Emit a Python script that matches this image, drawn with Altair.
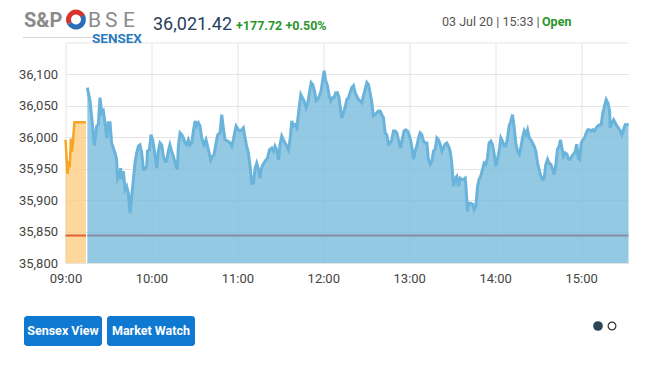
import altair as alt
import pandas as pd

# ---------------- data (minutes after 09:00, index value) ----------------
pre_t = [0.0, 0.6, 1.4, 2.2, 3.0, 3.8, 4.6, 5.4, 6.2, 14.3]
pre_v = [35996, 35975, 35942, 35958, 35956, 35998, 35977, 35999, 36024, 36024]

blue_t = [15.25, 17.1, 18.7, 20.1, 21.8, 22.9, 24.1, 25.3, 26.4, 27.6, 28.8, 29.9, 31.1, 32.2, 33.4, 34.6,
          35.7, 36.4, 37.6, 38.5, 39.2, 40.4, 41.6, 42.7, 43.9, 45.1, 46.2, 47.4, 48.5, 49.7, 50.9, 52.0,
          53.2, 54.4, 55.5, 56.7, 57.2, 58.6, 59.7, 60.9, 62.5, 63.7, 64.8, 66.0, 67.2, 68.3, 69.5, 70.6,
          71.8, 72.9, 74.1, 75.3, 77.2, 78.1, 78.8, 80.0, 81.2, 82.3, 83.5, 84.7, 85.8, 87.0, 88.2, 89.3,
          90.5, 91.6, 92.8, 93.9, 95.1, 96.7, 98.1, 99.8, 101.4, 102.6, 103.7, 105.1, 106.3, 107.9, 109.1,
          110.2, 111.4, 113.3, 114.9, 116.1, 117.2, 119.1, 120.7, 121.9, 123.1, 124.2, 125.4, 126.5, 127.7,
          128.9, 130.0, 131.2, 132.4, 133.5, 134.7, 135.9, 136.6, 137.7, 139.4, 141.0, 142.4, 144.0, 145.2,
          146.3, 147.5, 148.7, 149.8, 151.0, 152.2, 153.3, 154.5, 155.7, 156.8, 158.0, 159.1, 160.3, 161.5,
          163.3, 164.3, 165.4, 166.6, 168.0, 169.2, 170.3, 171.5, 172.6, 173.8, 175.0, 176.1, 177.3, 178.5,
          179.6, 180.6, 181.7, 182.9, 184.1, 185.2, 186.4, 187.5, 188.7, 189.9, 191.0, 191.7, 192.9, 194.1,
          195.2, 196.4, 197.6, 198.7, 199.9, 201.1, 202.2, 203.4, 204.5, 205.7, 206.9, 208.0, 209.2, 210.4,
          211.5, 212.7, 213.9, 215.0, 216.2, 217.4, 218.5, 219.7, 220.8, 222.0, 223.2, 224.3, 225.5, 226.7,
          227.8, 229.0, 230.2, 231.3, 232.5, 234.1, 235.3, 236.4, 237.6, 238.8, 239.9, 241.1, 242.3, 243.0,
          244.1, 245.3, 246.5, 247.6, 248.8, 249.9, 251.1, 252.3, 253.4, 254.6, 255.8, 256.9, 258.1, 259.3,
          260.4, 261.6, 262.8, 263.9, 265.1, 266.2, 267.4, 268.6, 269.7, 270.9, 272.1, 273.2, 274.4, 275.6,
          276.7, 277.9, 279.1, 279.7, 280.7, 281.6, 283.0, 284.4, 285.3, 286.5, 287.7, 288.8, 290.0, 291.2,
          292.3, 293.5, 294.6, 295.8, 297.0, 298.1, 299.3, 300.5, 301.6, 302.8, 304.0, 305.1, 306.3, 307.5,
          308.6, 309.8, 311.0, 312.1, 313.3, 314.4, 315.6, 316.8, 317.9, 319.1, 320.3, 321.4, 322.6, 323.8,
          324.9, 326.1, 327.2, 328.4, 329.6, 330.7, 331.9, 333.1, 334.2, 335.4, 336.6, 337.7, 338.9, 340.1,
          341.2, 342.4, 343.5, 344.7, 345.6, 346.6, 347.7, 348.9, 350.1, 351.2, 352.4, 353.6, 354.7, 355.9,
          357.0, 358.0, 358.9, 360.1, 361.2, 362.4, 363.6, 364.7, 365.9, 367.1, 368.2, 369.4, 370.6, 371.7,
          372.9, 374.0, 375.2, 376.4, 377.5, 378.7, 379.9, 380.3, 381.5, 382.7, 383.8, 385.0, 386.1, 387.3,
          388.5, 389.6, 390.8, 392.0, 393.1]
blue_v = [36079, 36058, 36023, 35987, 36018, 36020, 36063, 36039, 36042, 36023, 35999, 36023, 36023, 35991, 35983, 35975,
          35964, 35933, 35938, 35951, 35933, 35946, 35917, 35922, 35911, 35879, 35906, 35933, 35959, 35975, 35986, 35988,
          35975, 35949, 35949, 35954, 35978, 35980, 36004, 35996, 35972, 35951, 35978, 35991, 35988, 35970, 35962, 35962,
          35978, 35988, 35978, 35970, 35954, 35949, 35986, 36007, 36004, 35999, 35991, 35988, 35996, 35988, 35991, 36010,
          36026, 36018, 36023, 36018, 35999, 35988, 35996, 35980, 35964, 35970, 35972, 35991, 36004, 36007, 36036,
          36015, 35996, 35994, 35991, 35986, 35996, 36018, 36012, 36010, 36012, 36015, 35999, 35986, 35975,
          35954, 35927, 35927, 35951, 35959, 35949, 35935, 35949, 35956, 35962, 35967, 35980, 35983, 35978,
          35986, 35980, 35964, 35988, 36002, 35996, 35991, 35986, 35980, 35996, 36026, 36018, 36020, 36015,
          36050, 36068, 36063, 36058, 36047, 36055, 36071, 36087, 36084, 36074, 36058, 36060, 36066, 36074,
          36092, 36106, 36090, 36082, 36066, 36058, 36063, 36063, 36071, 36071, 36063, 36050, 36031, 36039,
          36047, 36060, 36063, 36071, 36079, 36082, 36071, 36066, 36060, 36058, 36055, 36066, 36076, 36087,
          36084, 36071, 36055, 36034, 36036, 36039, 36042, 36042, 36036, 36031, 36007, 36004, 35989, 35991,
          35996, 36010, 36010, 36007, 35996, 35983, 35999, 36010, 36012, 36010, 36004, 35994, 35978, 35965,
          35978, 35986, 35999, 36007, 36004, 35994, 35991, 35991, 35965, 35957, 35962, 35978, 35981, 35999,
          35996, 35989, 35978, 35983, 35989, 35991, 35986, 35978, 35959, 35922, 35935, 35938, 35922, 35935,
          35933, 35933, 35935, 35919, 35882, 35895, 35895, 35893, 35885, 35890, 35922, 35933, 35939, 35949,
          35959, 35957, 35967, 35991, 35994, 35989, 35973, 35954, 35965, 35978, 35999, 35994, 35986, 35986,
          35999, 36018, 36026, 36036, 36015, 35991, 35978, 35973, 35983, 35999, 36010, 36004, 36012, 35999,
          35996, 35991, 35986, 35978, 35959, 35949, 35938, 35933, 35935, 35957, 35965, 35959, 35957, 35949,
          35941, 35957, 35981, 35986, 35996, 35983, 35970, 35975, 35973, 35965, 35965, 35970, 35973, 35978,
          35989, 35967, 35965, 35991, 35996, 35999, 36007, 36012, 36012, 36010, 36012, 36010, 36015, 36018,
          36020, 36020, 36039, 36050, 36060, 36055, 36042, 36015, 36023, 36028, 36023, 36018, 36015, 36010,
          36004, 36012, 36020, 36020, 36021]

prev_close = 35843.70
y_ticks = [35800, 35850, 35900, 35950, 36000, 36050, 36100]
x_ticks = [0, 60, 120, 180, 240, 300, 360]

last_value = "36,021.42"
change_text = "+177.72 +0.50%"
stamp_text = "03 Jul 20 | 15:33 |"
status_text = "Open"
buttons = ["Sensex View", "Market Watch"]

# ---------------- layout ----------------
W, H = 563, 220
OX, OY = 65.5, 43  # page position of the plot origin


def px(x):
    return x - OX


def py(y):
    return y - OY


FONT = "Roboto"
GRID = "#e4e4e4"

x_enc = alt.X(
    "t:Q",
    scale=alt.Scale(domain=[0, 393.1], nice=False, zero=False),
    axis=alt.Axis(
        values=x_ticks,
        labelExpr="timeFormat(datetime(2020, 6, 3, 9, datum.value), '%H:%M')",
        grid=True, gridColor=GRID, domain=False, ticks=False, labelFlush=False,
        labelPadding=9, labelFontSize=13, labelColor="#444", labelFont=FONT,
        title=None,
    ),
)
y_enc = alt.Y(
    "v:Q",
    scale=alt.Scale(domain=[35800, 36150], nice=False, zero=False),
    axis=alt.Axis(
        values=y_ticks, format=",d",
        grid=True, gridColor=GRID, domain=False, ticks=False, labelFlush=False,
        labelPadding=8, labelFontSize=13, labelColor="#444", labelFont=FONT,
        title=None,
    ),
)

pre = pd.DataFrame({"t": pre_t, "v": pre_v})
reg = pd.DataFrame({"t": blue_t, "v": blue_v})

pre_area = alt.Chart(pre).mark_area(color="#fccd82", opacity=0.8).encode(
    x=x_enc, y=y_enc, y2=alt.datum(35800))
pre_line = alt.Chart(pre).mark_line(color="#f7a623", strokeWidth=2.5).encode(x=x_enc, y=y_enc)
reg_area = alt.Chart(reg).mark_area(color="#78bcdc", opacity=0.8).encode(
    x=x_enc, y=y_enc, y2=alt.datum(35800))
reg_line = alt.Chart(reg).mark_line(color="#6ab4db", strokeWidth=3).encode(x=x_enc, y=y_enc)

rules_df = pd.DataFrame({
    "t": [0, 15.25], "t2": [14.3, 393.1], "v": [prev_close, prev_close],
    "seg": ["pre", "reg"],
})
rules = alt.Chart(rules_df).mark_rule(strokeWidth=2).encode(
    x=x_enc, x2="t2:Q", y=y_enc,
    color=alt.Color("seg:N", scale=alt.Scale(domain=["pre", "reg"], range=["#e0603a", "#8a8ca4"]),
                    legend=None),
)

top_df = pd.DataFrame({"t": [0], "t2": [393.1], "v": [36150]})
top_line = alt.Chart(top_df).mark_rule(color=GRID, strokeWidth=1).encode(x=x_enc, x2="t2:Q", y=y_enc)


def label(text, x, y, size, color, weight="normal", align="left", baseline="alphabetic"):
    return alt.Chart(pd.DataFrame({"s": [text]})).mark_text(
        align=align, baseline=baseline, fontSize=size, color=color,
        fontWeight=weight, font=FONT,
    ).encode(x=alt.value(px(x)), y=alt.value(py(y)), text="s:N")


one = pd.DataFrame({"a": [0]})

# header / logo
logo_line = alt.Chart(one).mark_rule(color="#d4d4d4", strokeWidth=1).encode(
    x=alt.value(px(23)), x2=alt.value(px(92)), y=alt.value(py(37.5)))
arc_red = alt.Chart(one).mark_arc(theta=4.2, theta2=7.4, radius=10, radius2=5, color="#d8342c").encode(
    x=alt.value(px(76)), y=alt.value(py(19.5)))
arc_blue = alt.Chart(one).mark_arc(theta=1.06, theta2=4.2, radius=10, radius2=5, color="#2a6fb6").encode(
    x=alt.value(px(76)), y=alt.value(py(19.5)))

header = [
    label("S&P", 24, 27, 20, "#8a8a8a", "bold"),
    label("B", 88, 27, 21, "#8a8a8a", "normal"),
    label("S", 105, 27, 21, "#8a8a8a", "normal"),
    label("E", 123, 27, 21, "#8a8a8a", "normal"),
    label("SENSEX", 92, 43, 13.5, "#2b7bbf", "bold"),
    label(last_value, 153, 30, 18, "#253f5c"),
    label(change_text, 236, 29.5, 12.5, "#2a962a", "bold"),
    label(stamp_text, 442, 25.5, 12.5, "#555555"),
    label(status_text, 542, 25.5, 12.5, "#2a962a", "bold"),
]

# buttons
btn_layers = []
for name, (x0, x1) in zip(buttons, [(24, 102), (107, 195)]):
    btn_layers.append(
        alt.Chart(one).mark_rect(color="#0f79d2", cornerRadius=3).encode(
            x=alt.value(px(x0)), x2=alt.value(px(x1)), y=alt.value(py(316)), y2=alt.value(py(346)))
    )
    btn_layers.append(label(name, (x0 + x1) / 2, 331, 12.5, "white", "bold", "center", "middle"))

dot_full = alt.Chart(one).mark_point(filled=True, size=95, color="#2d4557", opacity=1).encode(
    x=alt.value(px(598)), y=alt.value(py(326)))
dot_empty = alt.Chart(one).mark_point(filled=False, size=60, color="#333333", strokeWidth=1.2, opacity=1).encode(
    x=alt.value(px(612)), y=alt.value(py(326)))

chart = alt.layer(
    top_line, pre_area, reg_area, pre_line, reg_line, rules,
    logo_line, arc_red, arc_blue, *header, *btn_layers, dot_full, dot_empty,
).properties(
    width=W, height=H,
    autosize=alt.AutoSizeParams(type="none"),
    padding={"left": 57.5, "top": 35, "right": 12, "bottom": 95},
    background="white",
).configure_view(stroke=None)

chart.save("out.html", embed_options={"renderer": "svg", "actions": False})
